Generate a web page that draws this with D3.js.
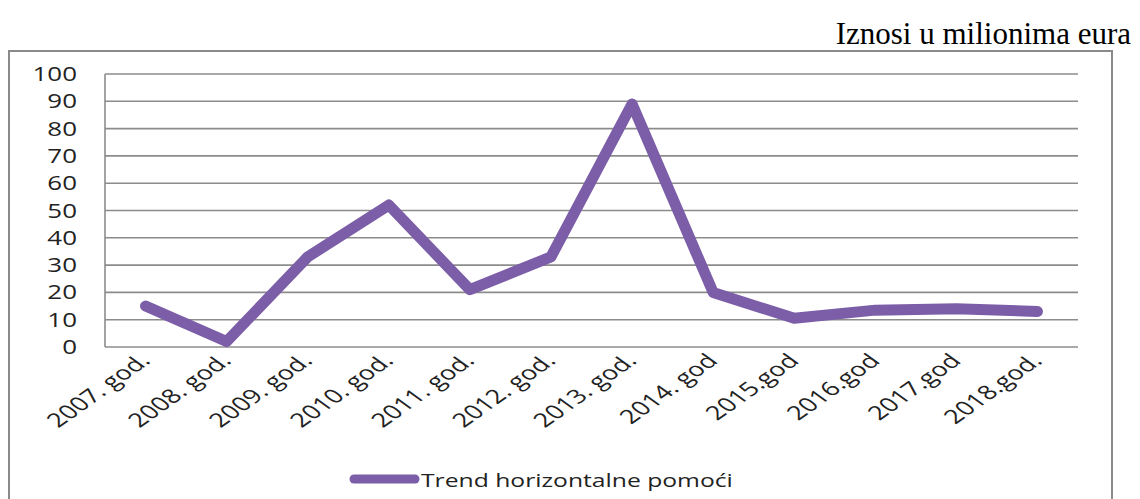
<!DOCTYPE html>
<html><head><meta charset="utf-8">
<script src="https://cdn.jsdelivr.net/npm/d3@7/dist/d3.min.js"></script>
<style>
html,body{margin:0;padding:0;background:#fff;}
svg{display:block;}
</style></head>
<body>
<svg id="chart" width="1140" height="499"></svg>
<script>
const categories = ["2007. god.","2008. god.","2009. god.","2010. god.","2011. god.","2012. god.","2013. god.","2014. god","2015.god","2016.god","2017.god","2018.god."];
const values = [15, 2, 33, 52, 21, 33, 89, 20, 10.5, 13.5, 14, 13];
const yTicks = [0,10,20,30,40,50,60,70,80,90,100];
const seriesName = "Trend horizontalne pomoći";
const titleText = "Iznosi u milionima eura";

(function () {
const svg = d3.select("#chart");
const lineColor = "#7b5ea7";
const gridColor = "#8c8c8c";
const pLeft = 105, pRight = 1078, pTop = 74, pBottom = 347;

// title
svg.append("text").attr("x", 1131).attr("y", 44).attr("text-anchor", "end")
  .attr("font-family", "Liberation Serif, Times New Roman, serif").attr("font-size", 31)
  .attr("fill", "#000").text(titleText);

// outer frame
svg.append("rect").attr("x", 9).attr("y", 51).attr("width", 1103).attr("height", 460)
  .attr("fill", "none").attr("stroke", "#8a8a8a").attr("stroke-width", 2);

const x = d3.scaleBand().domain(categories).range([pLeft, pRight]);
const y = d3.scaleLinear().domain([0, 100]).range([pBottom, pTop]);

// gridlines
svg.append("g").selectAll("line").data(yTicks).join("line")
  .attr("x1", pLeft).attr("x2", pRight)
  .attr("y1", d => y(d)).attr("y2", d => y(d))
  .attr("stroke", gridColor).attr("stroke-width", 1.6);

// left axis line
svg.append("line").attr("x1", pLeft).attr("x2", pLeft).attr("y1", pTop).attr("y2", pBottom)
  .attr("stroke", gridColor).attr("stroke-width", 1.6);

// y tick labels
svg.append("g").selectAll("text").data(yTicks).join("text")
  .attr("transform", d => `translate(77,${y(d) + 7}) scale(1.33,1)`)
  .attr("text-anchor", "end")
  .attr("font-family", "Open Sans, sans-serif").attr("font-size", 19.5)
  .attr("fill", "#222").text(d => d);

// x labels
svg.append("g").selectAll("text").data(categories).join("text")
  .attr("transform", d => `translate(${x(d) + x.bandwidth()/2 + 6},${pBottom + 15}) scale(1.4,1) rotate(-45)`)
  .attr("text-anchor", "end")
  .attr("font-family", "Open Sans, sans-serif").attr("font-size", 19.5)
  .attr("fill", "#222").text(d => d);

// line
const line = d3.line().x((d, i) => x(categories[i]) + x.bandwidth()/2).y(d => y(d));
svg.append("path").datum(values).attr("d", line)
  .attr("fill", "none").attr("stroke", lineColor).attr("stroke-width", 11)
  .attr("stroke-linejoin", "round").attr("stroke-linecap", "round");

// legend
svg.append("line").attr("x1", 354).attr("x2", 415).attr("y1", 479).attr("y2", 479)
  .attr("stroke", lineColor).attr("stroke-width", 9).attr("stroke-linecap", "round");
svg.append("text").attr("transform", "translate(421,487) scale(1.3,1)")
  .attr("font-family", "Open Sans, sans-serif").attr("font-size", 19)
  .attr("fill", "#222").text(seriesName);
})();
</script>
</body></html>
